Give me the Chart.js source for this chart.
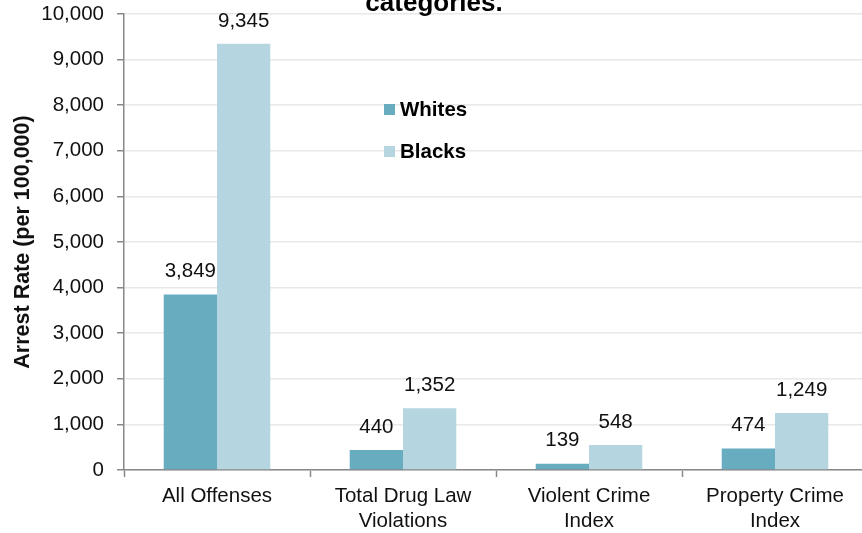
<!DOCTYPE html>
<html>
<head>
<meta charset="utf-8">
<script src="https://cdn.jsdelivr.net/npm/chart.js@4"></script>
<style>
  html, body { margin: 0; padding: 0; background: #fff; overflow: hidden; }
  #wrap { position: relative; width: 862px; height: 533px; overflow: hidden; }
  #title {
    position: absolute; left: 0; width: 868px; top: -11px;
    text-align: center; font: bold 26px 'Liberation Sans', Arial, sans-serif; color: #000;
    line-height: 26px;
  }
  canvas { position: absolute; left: 0; top: 0; }
</style>
</head>
<body>
<div id="wrap">
  <canvas id="chart" width="868" height="533"></canvas>
  <div id="title">categories.</div>
</div>
<script>
// 数据
const categories = [['All Offenses'], ['Total Drug Law', 'Violations'], ['Violent Crime', 'Index'], ['Property Crime', 'Index']]
const seriesNames = ['Whites', 'Blacks']
const whites = [3849, 440, 139, 474]
const blacks = [9345, 1352, 548, 1249]
const yTicks = [0, 1000, 2000, 3000, 4000, 5000, 6000, 7000, 8000, 9000, 10000]

const FONT = "'Liberation Sans', Arial, sans-serif"
const colors = ['#68acbf', '#b5d6e0']

// 柱顶数值标签
const valueLabels = {
  id: 'valueLabels',
  afterDatasetsDraw(chart) {
    const ctx = chart.ctx
    ctx.save()
    ctx.font = '20.5px ' + FONT
    ctx.fillStyle = '#111'
    ctx.textAlign = 'center'
    ctx.textBaseline = 'middle'
    chart.data.datasets.forEach((ds, i) => {
      chart.getDatasetMeta(i).data.forEach((bar, j) => {
        ctx.fillText(ds.data[j].toLocaleString('en-US'), bar.x, bar.y - 23)
      })
    })
    ctx.restore()
  }
}

// 图内图例
const insideLegend = {
  id: 'insideLegend',
  afterDraw(chart) {
    const ctx = chart.ctx
    ctx.save()
    ctx.font = 'bold 20.5px ' + FONT
    ctx.textBaseline = 'middle'
    chart.data.datasets.forEach((ds, i) => {
      const y = 110 + i * 42
      ctx.fillStyle = ds.backgroundColor
      ctx.fillRect(384, y - 6, 11, 11)
      ctx.fillStyle = '#000'
      ctx.fillText(ds.label, 400, y)
    })
    ctx.restore()
  }
}

new Chart(document.getElementById('chart'), {
  type: 'bar',
  data: {
    labels: categories,
    datasets: [
      { label: seriesNames[0], data: whites, backgroundColor: colors[0] },
      { label: seriesNames[1], data: blacks, backgroundColor: colors[1] }
    ]
  },
  plugins: [valueLabels, insideLegend],
  options: {
    responsive: false,
    animation: false,
    devicePixelRatio: 1,
    layout: { padding: { top: 14, right: 0, left: 0, bottom: 0 } },
    datasets: { bar: { barPercentage: 1, categoryPercentage: 0.573 } },
    plugins: { legend: { display: false }, tooltip: { enabled: false } },
    scales: {
      x: {
        afterFit: s => { s.height = 63; s.paddingLeft = 0; s.paddingRight = 0 },
        grid: { offset: true, drawOnChartArea: false, drawTicks: true, tickLength: 7, tickColor: '#888', tickWidth: 1.5 },
        border: { color: '#888', width: 1.5 },
        ticks: { color: '#111', font: { family: FONT, size: 20.5 }, padding: 7, maxRotation: 0, autoSkip: false }
      },
      y: {
        min: 0,
        max: 10000,
        afterFit: s => { s.width = 124; s.paddingTop = 0; s.paddingBottom = 0 },
        afterBuildTicks: s => { s.ticks = yTicks.map(v => ({ value: v })) },
        grid: { color: '#e8e8e8', lineWidth: 1.5, tickColor: '#888', tickLength: 7, tickWidth: 1.5 },
        border: { color: '#888', width: 1.5 },
        ticks: {
          color: '#111', font: { family: FONT, size: 20.5 }, padding: 13,
          callback: v => v.toLocaleString('en-US')
        },
        title: {
          display: true, text: 'Arrest Rate (per 100,000)', color: '#111',
          font: { family: FONT, size: 21.5, weight: 'bold' }, padding: { top: 10, bottom: 0 }
        }
      }
    }
  }
})
</script>
</body>
</html>
